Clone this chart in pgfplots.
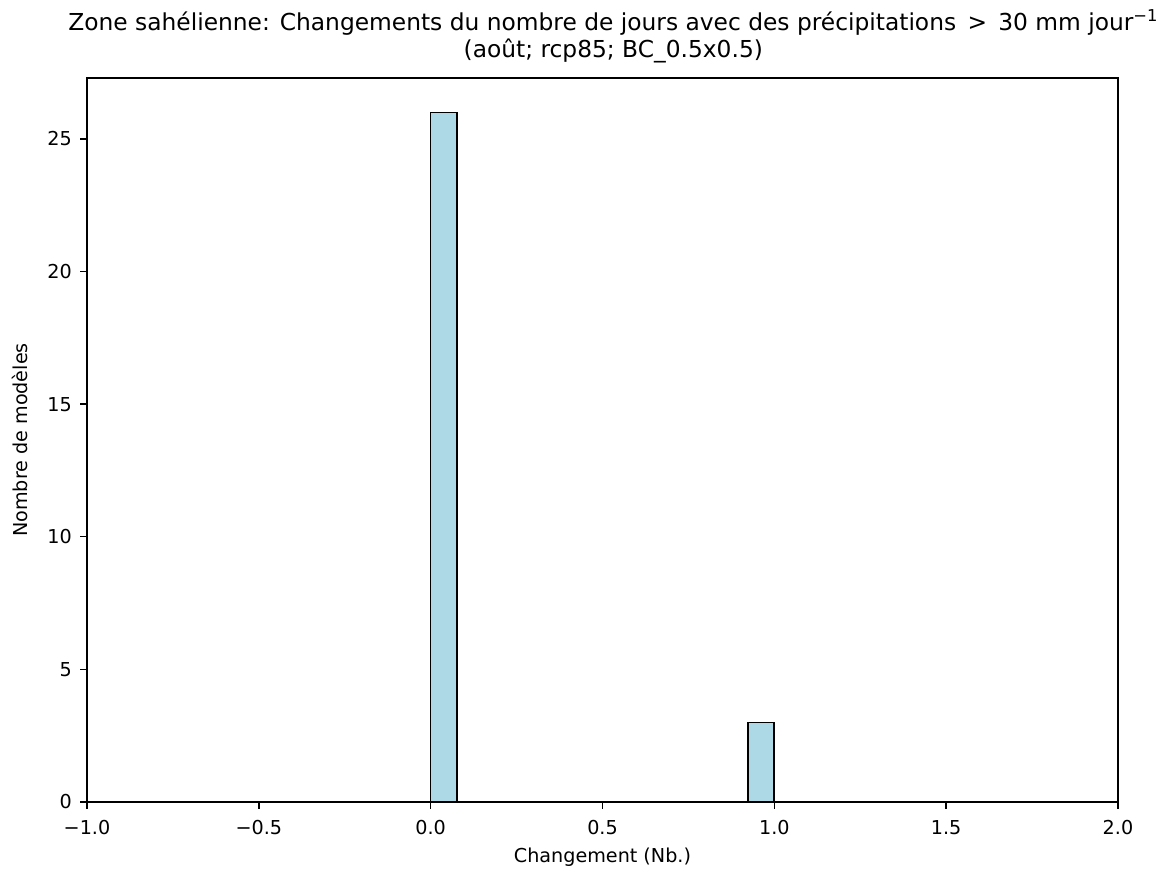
\documentclass[border=0pt]{standalone}
\usepackage{fontspec}
\setmainfont{DejaVu Sans}
\usepackage{pgfplots}
\pgfplotsset{compat=1.18}
\definecolor{barblue}{HTML}{ADD8E6}
\begin{document}
\begin{tikzpicture}
\begin{axis}[
  at={(0,0)}, anchor=south west,
  scale only axis,
  width=742.3pt, height=521.3pt,
  xmin=-1, xmax=2, ymin=0, ymax=27.3,
  xtick={-1,-0.5,0,0.5,1,1.5,2},
  xticklabels={−1.0,−0.5,0.0,0.5,1.0,1.5,2.0},
  ytick={0,5,10,15,20,25},
  yticklabels={0,5,10,15,20,25},
  tick align=outside,
  xtick pos=bottom, ytick pos=left,
  major tick length=5pt,
  every tick/.style={black, line width=1pt},
  axis line style={line width=1pt},
  tick label style={font=\fontsize{13.8pt}{16pt}\selectfont},
  xticklabel style={yshift=-4.5pt},
  yticklabel style={xshift=-2.4pt},
  label style={font=\fontsize{13.8pt}{16pt}\selectfont},
  xlabel={Changement (Nb.)},
  ylabel={Nombre de modèles},
  xlabel style={at={(axis description cs:0.5,-0.0635)}, anchor=north, inner sep=0pt},
  ylabel style={at={(axis description cs:-0.0730,0.5)}, anchor=north, inner sep=0pt},
  title={Zone sahélienne: Changements du nombre de jours avec des précipitations \,>\, 30 mm jour\textsuperscript{−1}\\(août; rcp85; BC\_0.5x0.5)},
  title style={font=\fontsize{16.8pt}{19.8pt}\selectfont, align=center, at={(0.5105,1)}, anchor=south, yshift=1pt},
  axis on top,
]
\addplot[ybar interval, fill=barblue, draw=black, line width=1.2pt] coordinates {
(0,26) (0.076923,0) (0.153846,0) (0.230769,0) (0.307692,0) (0.384615,0)
(0.461538,0) (0.538462,0) (0.615385,0) (0.692308,0) (0.769231,0)
(0.846154,0) (0.923077,3) (1.0,3)
};
\end{axis}
\pgfresetboundingbox
\useasboundingbox (-62.64pt,-49.68pt) rectangle (776.88pt,577.44pt);
\end{tikzpicture}
\end{document}
